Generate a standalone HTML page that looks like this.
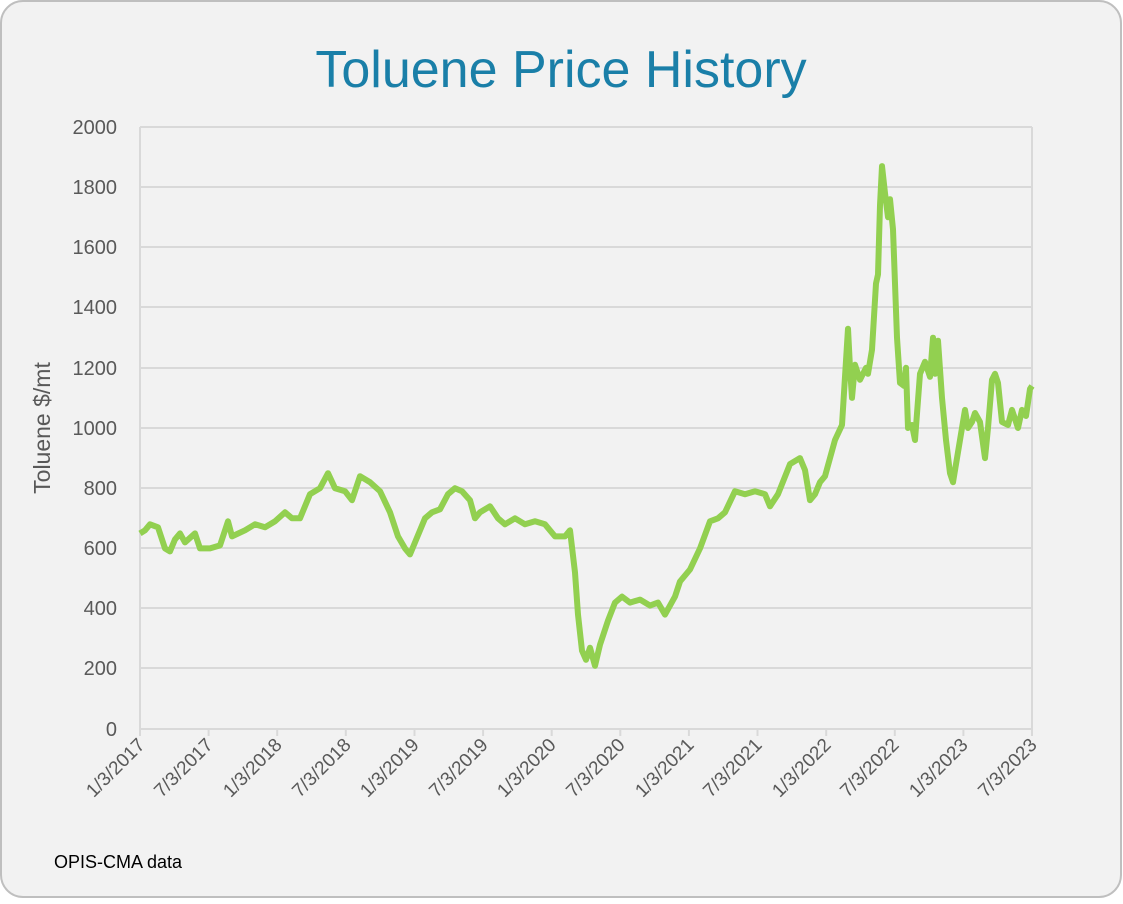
<!DOCTYPE html>
<html><head><style>
body{margin:0;background:#fff;}
</style></head><body>
<svg width="1123" height="899" xmlns="http://www.w3.org/2000/svg" font-family="Liberation Sans, sans-serif">
<rect x="1" y="1" width="1120" height="896" rx="22" fill="#f2f2f2" stroke="#bfbfbf" stroke-width="2"/>
<text x="561" y="87" text-anchor="middle" font-size="52" fill="#1a7fa8">Toluene Price History</text>
<g stroke="#d9d9d9" stroke-width="2">
<line x1="140" x2="1032" y1="127" y2="127"/><line x1="140" x2="1032" y1="187" y2="187"/>
<line x1="140" x2="1032" y1="247" y2="247"/><line x1="140" x2="1032" y1="307" y2="307"/>
<line x1="140" x2="1032" y1="368" y2="368"/><line x1="140" x2="1032" y1="428" y2="428"/>
<line x1="140" x2="1032" y1="488" y2="488"/><line x1="140" x2="1032" y1="548" y2="548"/>
<line x1="140" x2="1032" y1="608" y2="608"/><line x1="140" x2="1032" y1="668" y2="668"/>
<line x1="140" x2="1032" y1="729" y2="729"/>
<line x1="140" x2="140" y1="127" y2="736"/><line x1="1032" x2="1032" y1="127" y2="736"/>
<line x1="208.6" x2="208.6" y1="729" y2="736"/><line x1="277.2" x2="277.2" y1="729" y2="736"/>
<line x1="345.8" x2="345.8" y1="729" y2="736"/><line x1="414.5" x2="414.5" y1="729" y2="736"/>
<line x1="483.1" x2="483.1" y1="729" y2="736"/><line x1="551.7" x2="551.7" y1="729" y2="736"/>
<line x1="620.3" x2="620.3" y1="729" y2="736"/><line x1="688.9" x2="688.9" y1="729" y2="736"/>
<line x1="757.5" x2="757.5" y1="729" y2="736"/><line x1="826.2" x2="826.2" y1="729" y2="736"/>
<line x1="894.8" x2="894.8" y1="729" y2="736"/><line x1="963.4" x2="963.4" y1="729" y2="736"/>
</g>
<g font-size="20" fill="#595959" text-anchor="end">
<text x="117" y="134">2000</text><text x="117" y="194">1800</text><text x="117" y="254">1600</text>
<text x="117" y="314">1400</text><text x="117" y="375">1200</text><text x="117" y="435">1000</text>
<text x="117" y="495">800</text><text x="117" y="555">600</text><text x="117" y="615">400</text>
<text x="117" y="675">200</text><text x="117" y="736">0</text>
</g>
<text transform="translate(50,428) rotate(-90)" text-anchor="middle" font-size="23" fill="#595959">Toluene $/mt</text>
<g font-size="19" fill="#595959" text-anchor="end">
<text transform="translate(146,746) rotate(-45)">1/3/2017</text>
<text transform="translate(214,746) rotate(-45)">7/3/2017</text>
<text transform="translate(283,746) rotate(-45)">1/3/2018</text>
<text transform="translate(352,746) rotate(-45)">7/3/2018</text>
<text transform="translate(420,746) rotate(-45)">1/3/2019</text>
<text transform="translate(489,746) rotate(-45)">7/3/2019</text>
<text transform="translate(557,746) rotate(-45)">1/3/2020</text>
<text transform="translate(626,746) rotate(-45)">7/3/2020</text>
<text transform="translate(695,746) rotate(-45)">1/3/2021</text>
<text transform="translate(763,746) rotate(-45)">7/3/2021</text>
<text transform="translate(832,746) rotate(-45)">1/3/2022</text>
<text transform="translate(900,746) rotate(-45)">7/3/2022</text>
<text transform="translate(969,746) rotate(-45)">1/3/2023</text>
<text transform="translate(1038,746) rotate(-45)">7/3/2023</text>
</g>
<text x="54" y="868" font-size="18" fill="#000">OPIS-CMA data</text>
<polyline fill="none" stroke="#92d050" stroke-width="6" stroke-linejoin="round" points="140,533.4 145,530.3 150,524.3 158,527.3 165,548.4 170,551.4 175,539.4 180,533.4 185,542.4 195,533.4 200,548.4 210,548.4 220,545.4 228,521.3 232,536.4 245,530.3 255,524.3 265,527.3 275,521.3 285,512.3 292,518.3 300,518.3 310,494.2 320,488.2 328,473.2 335,488.2 345,491.2 352,500.2 360,476.2 370,482.2 380,491.2 390,512.3 398,536.4 405,548.4 410,554.4 415,542.4 425,518.3 432,512.3 440,509.3 448,494.2 455,488.2 462,491.2 470,500.2 475,518.3 480,512.3 490,506.3 498,518.3 505,524.3 515,518.3 525,524.3 535,521.3 545,524.3 555,536.4 565,536.4 570,530.3 575,572.5 578,614.6 582,650.7 586,659.8 590,647.7 595,665.8 600,644.7 608,620.6 615,602.6 622,596.6 630,602.6 640,599.6 650,605.6 658,602.6 665,614.6 675,596.6 680,581.5 690,569.5 700,548.4 710,521.3 718,518.3 725,512.3 735,491.2 745,494.2 755,491.2 765,494.2 770,506.3 778,494.2 790,464.1 800,458.1 805,470.1 810,500.2 815,494.2 820,482.2 825,476.2 835,440 842,425 848,328.7 850,367.8 852,397.9 855,364.8 860,379.8 866,367.8 868,373.8 872,349.7 876,283.5 878,274.5 880,205.3 882,166.1 885,193.2 888,217.3 890,199.2 893,229.3 897,337.7 900,382.9 904,385.9 906,367.8 908,428 912,425 915,440 920,373.8 925,361.8 930,376.8 933,337.7 935,373.8 938,340.7 942,397.9 946,440 950,473.2 953,482.2 957,458.1 960,440 965,409.9 968,428 972,422 975,413 980,422 985,458.1 988,428 992,379.8 995,373.8 998,382.9 1002,422 1008,425 1012,409.9 1018,428 1022,409.9 1026,416 1030,388.9 1032,385.9"/>
</svg>
</body></html>
